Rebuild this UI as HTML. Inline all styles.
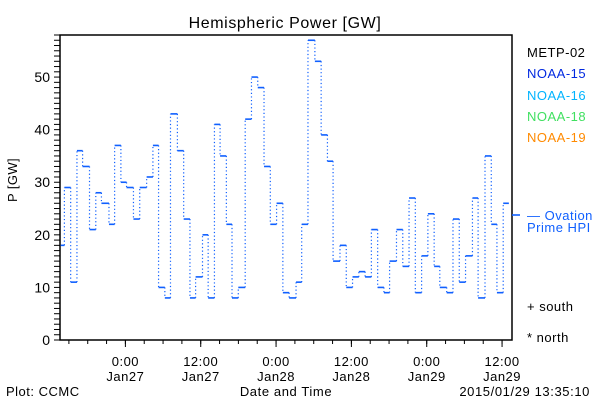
<!DOCTYPE html>
<html><head><meta charset="utf-8"><style>
html,body{margin:0;padding:0;background:#fff;}
svg{display:block;font-family:"Liberation Sans",sans-serif;}
</style></head><body>
<svg id="chart" width="600" height="400">
<text x="285" y="28" font-size="16" text-anchor="middle" letter-spacing="0.6">Hemispheric Power [GW]</text>
<text transform="translate(17,180) rotate(-90)" font-size="13" text-anchor="middle" letter-spacing="0.4">P [GW]</text>
<text x="6" y="396" font-size="13" letter-spacing="0.5">Plot: CCMC</text>
<text x="286" y="396" font-size="13" text-anchor="middle" letter-spacing="0.6">Date and Time</text>
<text x="590" y="396" font-size="13" text-anchor="end" letter-spacing="0.6">2015/01/29 13:35:10</text>
<g font-size="13" letter-spacing="0.5">
<text x="527" y="57" fill="#000">METP-02</text>
<text x="527" y="78" fill="#0028e0">NOAA-15</text>
<text x="527" y="100" fill="#00b4ff">NOAA-16</text>
<text x="527" y="121" fill="#40e060">NOAA-18</text>
<text x="527" y="142" fill="#ff8a00">NOAA-19</text>
<text x="527" y="220" fill="#1060ff">— Ovation</text>
<text x="527" y="232" fill="#1060ff">Prime HPI</text>
<text x="527" y="311" fill="#000">+ south</text>
<text x="527" y="342" fill="#000">* north</text>
</g>
<g id="axes"></g>
<g id="series"></g>
</svg>
<script>
// hours since start (Jan26 13:35) of each step, and HP values
const stepHours = [0.1,0.7,1.7,2.7,3.6,4.7,5.7,6.6,7.8,8.7,9.7,10.6,11.7,12.7,13.8,14.8,15.7,16.7,17.6,18.7,19.7,20.7,21.6,22.7,23.6,24.6,
 25.5,26.5,27.4,28.4,29.5,30.5,31.5,32.5,33.5,34.5,35.5,36.5,37.6,38.5,39.5,40.6,41.6,42.6,43.5,44.6,45.6,46.6,47.6,48.6,49.6,
 50.6,51.6,52.5,53.6,54.6,55.6,56.6,57.6,58.6,59.6,60.5,61.6,62.6,63.6,64.6,65.7,66.6,67.7,68.7,69.6,70.6,71.5];
const stepValues = [18,29,11,36,33,21,28,26,22,37,30,29,23,29,31,37,10,8,43,36,23,8,12,20,8,41,
 35,22,8,10,42,50,48,33,22,26,9,8,11,22,57,53,39,34,15,18,10,12,13,12,
 21,10,9,15,21,14,27,9,16,24,14,10,9,23,11,16,27,8,35,22,9,26];
const yMajorTicks = [0,10,20,30,40,50];
const xTickHours = [10.417,22.417,34.417,46.417,58.417,70.417];
const xTickLabels1 = ["0:00","12:00","0:00","12:00","0:00","12:00"];
const xTickLabels2 = ["Jan27","Jan27","Jan28","Jan28","Jan29","Jan29"];

const L=60,R=512,T=35,B=340, H0=0,H1=72, V0=0,V1=58;
const sx=h=>L+(h-H0)/(H1-H0)*(R-L);
const sy=v=>B-(v-V0)/(V1-V0)*(B-T);
const NS="http://www.w3.org/2000/svg";
function mk(tag,attrs,parent){const e=document.createElementNS(NS,tag);for(const k in attrs)e.setAttribute(k,attrs[k]);parent.appendChild(e);return e;}
const ax=document.getElementById('axes'), se=document.getElementById('series');

let frame=mk('rect',{x:L,y:T,width:R-L,height:B-T,fill:'none',stroke:'#000','stroke-width':1.5},ax);


for(let v=0;v<=V1;v++){
  const y=sy(v);
  const t=mk('line',{x1:L-6,x2:L,y1:y,y2:y,stroke:'#000','stroke-width':1},ax);
  
  
}
yMajorTicks.forEach(v=>{
  const t=mk('text',{x:L-10,y:sy(v)+5,'font-size':14,'text-anchor':'end'},ax);
  t.textContent=v;
  
  
});
for(let h=xTickHours[0]-9;h<=H1;h+=3){
  if(h<H0)continue;
  const t=mk('line',{x1:sx(h),x2:sx(h),y1:B,y2:B+4,stroke:'#000','stroke-width':1},ax);
  
  
}
xTickHours.forEach((h,i)=>{
  const x=sx(h);
  const t=mk('line',{x1:x,x2:x,y1:B,y2:B+7,stroke:'#000','stroke-width':1},ax);
  
  
  const a=mk('text',{x:x,y:366,'font-size':13,'text-anchor':'middle','letter-spacing':0.5},ax);
  a.textContent=xTickLabels1[i];
  
  
  const b=mk('text',{x:x,y:381,'font-size':13,'text-anchor':'middle','letter-spacing':0.5},ax);
  b.textContent=xTickLabels2[i];
  
  
});
const col='#1060ff';
for(let i=0;i<stepValues.length;i++){
  const x1=sx(stepHours[i]);
  const x2=i+1<stepHours.length?sx(stepHours[i+1]):R;
  const y=sy(stepValues[i]);
  const s=mk('line',{x1:x1,x2:x2,y1:y,y2:y,stroke:col,'stroke-width':1.6},se);
  
  
  if(i>0){
    const yp=sy(stepValues[i-1]);
    const v=mk('line',{x1:x1,x2:x1,y1:yp,y2:y,stroke:col,'stroke-width':1.2,'stroke-dasharray':'1.2 2.4'},se);
    
    
  }
}
const m=mk('line',{x1:R,x2:R+8,y1:215,y2:215,stroke:col,'stroke-width':1.6},se);


</script>
</body></html>
